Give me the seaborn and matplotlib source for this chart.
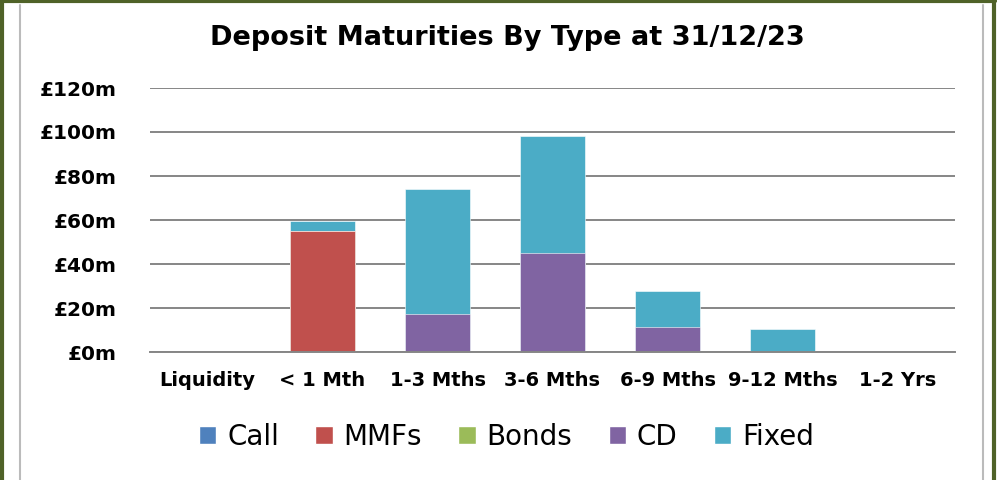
import numpy as np
import pandas as pd
import seaborn as sns
import matplotlib.pyplot as plt
from matplotlib.lines import Line2D
from matplotlib.patches import Patch

sns.set_style("white")
plt.rcParams['font.family'] = ['DejaVu Sans']
plt.rcParams['text.color'] = 'black'
plt.rcParams['xtick.color'] = 'black'
plt.rcParams['ytick.color'] = 'black'

categories = ["Liquidity", "< 1 Mth", "1-3 Mths", "3-6 Mths", "6-9 Mths", "9-12 Mths", "1-2 Yrs"]
series = ["Call", "MMFs", "Bonds", "CD", "Fixed"]
call = [0, 0, 0, 0, 0, 0, 0]
mmfs = [0, 55, 0, 0, 0, 0, 0]
bonds = [0, 0, 0, 0, 0, 0, 0]
cd = [0, 0, 17.3, 45, 11.4, 0, 0]
fixed = [0, 4.5, 57, 53, 16.3, 10.5, 0]
colors = ["#4F81BD", "#C0504D", "#9BBB59", "#8064A2", "#4BACC6"]
yticks = [0, 20, 40, 60, 80, 100, 120]

df = pd.DataFrame({"cat": categories, "Call": call, "MMFs": mmfs,
                   "Bonds": bonds, "CD": cd, "Fixed": fixed})
cum = df[series].cumsum(axis=1)

fig = plt.figure(figsize=(9.99, 4.8), dpi=100)
ax = fig.add_axes([150 / 999, 1 - 352 / 480, 805 / 999, 264 / 480])

# stacked bars: draw cumulative totals from the top layer down
for name, col in reversed(list(zip(series, colors))):
    sns.barplot(x=df["cat"], y=cum[name], order=categories, color=col,
                width=0.57, saturation=1, ax=ax, edgecolor="white", linewidth=0.4)

ax.set_ylim(0, 120)
ax.set_xlim(-0.5, 6.5)
ax.set_yticks(yticks)
ax.set_yticklabels([f"£{v}m" for v in yticks], fontweight="bold", fontsize=14.5)
ax.set_xticks(range(len(categories)))
ax.set_xticklabels(categories, fontweight="bold", fontsize=14)
ax.tick_params(axis="y", length=0, pad=24)
ax.tick_params(axis="x", length=0, pad=14)
ax.set_xlabel("")
ax.set_ylabel("")
ax.yaxis.grid(True, color="#868686", linewidth=1.4)
ax.set_axisbelow(True)
for s in ["top", "right", "left"]:
    ax.spines[s].set_visible(False)
ax.spines["bottom"].set_color("#868686")
ax.spines["bottom"].set_linewidth(1.4)

fig.text(0.508, 1 - 38 / 480, "Deposit Maturities By Type at 31/12/23",
         ha="center", va="center", fontsize=19.5, fontweight="bold")

handles = [Patch(facecolor=c, label=s) for s, c in zip(series, colors)]
fig.legend(handles=handles, loc="center", bbox_to_anchor=(0.507, 1 - 437 / 480),
           ncol=5, frameon=False, fontsize=20, handlelength=0.62, handleheight=0.62,
           handletextpad=0.4, columnspacing=1.3)

# worksheet frame around the chart
green = "#4F6228"
fig.add_artist(Line2D([0.002, 0.002], [0, 1], color=green, lw=3, transform=fig.transFigure))
fig.add_artist(Line2D([0, 0.996], [0.997, 0.997], color=green, lw=3, transform=fig.transFigure))
fig.add_artist(Line2D([0.995, 0.995], [0, 1], color=green, lw=3, transform=fig.transFigure))
fig.add_artist(Line2D([20 / 999, 20 / 999], [0, 0.99], color="#bbbbbb", lw=1.5, transform=fig.transFigure))
fig.add_artist(Line2D([983 / 999, 983 / 999], [0, 0.99], color="#bbbbbb", lw=1.5, transform=fig.transFigure))

fig.savefig("out.png", dpi=100)
